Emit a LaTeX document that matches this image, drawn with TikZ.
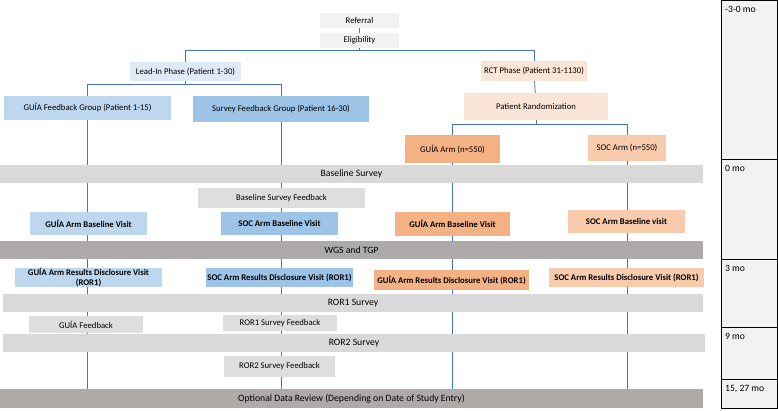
\documentclass[tikz,border=0pt]{standalone}
\usepackage{fontspec}
\setmainfont{Carlito}
\usetikzlibrary{backgrounds}

\definecolor{lightgrey}{HTML}{F2F2F2}
\definecolor{midgrey}{HTML}{D9D9D9}
\definecolor{fbgrey}{HTML}{DEDEDE}
\definecolor{darkgrey}{HTML}{AEAAAA}
\definecolor{paleblue}{HTML}{DEEBF7}
\definecolor{lightblue}{HTML}{BDD7EE}
\definecolor{midblue}{HTML}{9DC3E6}
\definecolor{paleorange}{HTML}{FBE5D6}
\definecolor{lightorange}{HTML}{F8CBAD}
\definecolor{midorange}{HTML}{F4B183}
\definecolor{linkblue}{HTML}{4472C4}

\tikzset{
    box/.style={inner sep=0pt, align=center, font=\fontsize{8.7}{9.4}\selectfont},
    boldbox/.style={box, font=\fontsize{8.7}{9.4}\selectfont\bfseries},
    band/.style={box, minimum width=703pt, minimum height=18pt, font=\fontsize{9.7}{11}\selectfont},
    link/.style={draw=linkblue, line width=0.8pt},
    tlabel/.style={anchor=north west, inner sep=0pt, font=\fontsize{9.6}{11}\selectfont}
}

\begin{document}
\begin{tikzpicture}[x=1pt, y=-1pt]
    \useasboundingbox (0,0) rectangle (778,410);

    % Enrolment
    \node[box, fill=lightgrey, minimum width=79pt, minimum height=15pt] (referral) at (359.5,20.5) {Referral};
    \node[box, fill=lightgrey, minimum width=79pt, minimum height=15pt] (elig) at (359.5,40.5) {Eligibility};

    % Phases
    \node[box, fill=paleblue, minimum width=111pt, minimum height=19pt] (leadin) at (185.5,71.5) {Lead-In Phase (Patient 1-30)};
    \node[box, fill=paleorange, minimum width=106pt, minimum height=20pt] (rct) at (534,71) {RCT Phase (Patient 31-1130)};
    \node[box, fill=lightblue, minimum width=167pt, minimum height=24pt] (guiagrp) at (87.5,108) {GUÍA Feedback Group (Patient 1-15)};
    \node[box, fill=midblue, minimum width=176pt, minimum height=26pt] (survgrp) at (281,109) {Survey Feedback Group (Patient 16-30)};
    \node[box, fill=paleorange, minimum width=144pt, minimum height=27pt] (rand) at (536,106.5) {Patient Randomization};
    \node[box, fill=midorange, minimum width=95pt, minimum height=28pt] (guiaarm) at (452.5,149) {GUÍA Arm (n=550)};
    \node[box, fill=lightorange, minimum width=78pt, minimum height=26pt] (socarm) at (627,148) {SOC Arm (n=550)};

    % Baseline
    \node[band, fill=midgrey] (bsurvey) at (351.5,174) {Baseline Survey};
    \node[box, fill=fbgrey, minimum width=167pt, minimum height=20pt] (bsfb) at (281.5,198) {Baseline Survey Feedback};
    \node[boldbox, fill=lightblue, minimum width=117pt, minimum height=23pt] (guiabv) at (88.5,223.5) {GUÍA Arm Baseline Visit};
    \node[boldbox, fill=midblue, minimum width=117pt, minimum height=23pt] (socbv) at (279.5,223.5) {SOC Arm Baseline Visit};
    \node[boldbox, fill=midorange, minimum width=115pt, minimum height=24pt] (guiabvr) at (452.5,224) {GUÍA Arm Baseline Visit};
    \node[boldbox, fill=lightorange, minimum width=117pt, minimum height=23pt] (socbvr) at (626.5,221.5) {SOC Arm Baseline visit};
    \node[band, fill=darkgrey] (wgs) at (351.5,250) {WGS and TGP};

    % Results disclosure
    \node[boldbox, fill=lightblue, minimum width=147pt, minimum height=19pt] (guiaror) at (88.5,277.5) {GUÍA Arm Results Disclosure Visit\\(ROR1)};
    \node[boldbox, fill=midblue, minimum width=147pt, minimum height=19pt] (socror) at (279.5,277.5) {SOC Arm Results Disclosure Visit (ROR1)};
    \node[boldbox, fill=midorange, minimum width=155pt, minimum height=20pt] (guiarorr) at (451.5,280) {GUÍA Arm Results Disclosure Visit (ROR1)};
    \node[boldbox, fill=lightorange, minimum width=155pt, minimum height=19pt] (socrorr) at (626.5,277.5) {SOC Arm Results Disclosure Visit (ROR1)};
    \node[band, fill=midgrey, minimum width=700pt] (rorone) at (353,303) {ROR1 Survey};
    \node[box, fill=fbgrey, minimum width=114pt, minimum height=17pt] (guiafb) at (86,324.5) {GUÍA Feedback};
    \node[box, fill=fbgrey, minimum width=114pt, minimum height=16pt] (roronefb) at (280,323) {ROR1 Survey Feedback};
    \node[band, fill=midgrey, minimum width=702pt] (rortwo) at (354,343) {ROR2 Survey};
    \node[box, fill=fbgrey, minimum width=111pt, minimum height=21pt] (rortwofb) at (279.5,366.5) {ROR2 Survey Feedback};
    \node[band, fill=darkgrey, minimum height=19pt] (review) at (351.5,398.5) {Optional Data Review (Depending on Date of Study Entry)};

    % Connectors
    \begin{scope}[on background layer]
        \draw[link] (referral) -- (elig);
        \draw[link] (elig.south) -- ++(0,2) coordinate (split);
        \draw[link] (leadin.north) |- (split) -| (rct.north);
        \draw[link] (leadin.south) -- ++(0,3) coordinate (leadsplit);
        \draw[link] (guiagrp.north) |- (leadsplit) -| (survgrp.north);
        \draw[link] (rct) -- (rand);
        \draw[link] (rand.south) -- ++(0,4) coordinate (randsplit);
        \draw[link] (guiaarm.north) |- (randsplit) -| (socarm.north);
        \draw[link] (guiagrp.south) -- (guiagrp.south |- review.north);
        \draw[link] (survgrp.south) -- (survgrp.south |- review.north);
        \draw[link] (guiaarm.south) -- (guiaarm.south |- review.north);
        \draw[link] (socarm.south) -- (socarm.south |- review.north);
    \end{scope}

    % Timeline
    \foreach \top/\bot/\lbl in {0/159/-3-0 mo, 159/259/0 mo, 259/327/3 mo, 327/379/9 mo, 379/408/{15, 27 mo}} {
        \draw[fill=lightgrey, line width=0.8pt] (721,\top) rectangle (777,\bot);
        \node[tlabel] at (725,\top+6) {\lbl};
    }
\end{tikzpicture}
\end{document}
